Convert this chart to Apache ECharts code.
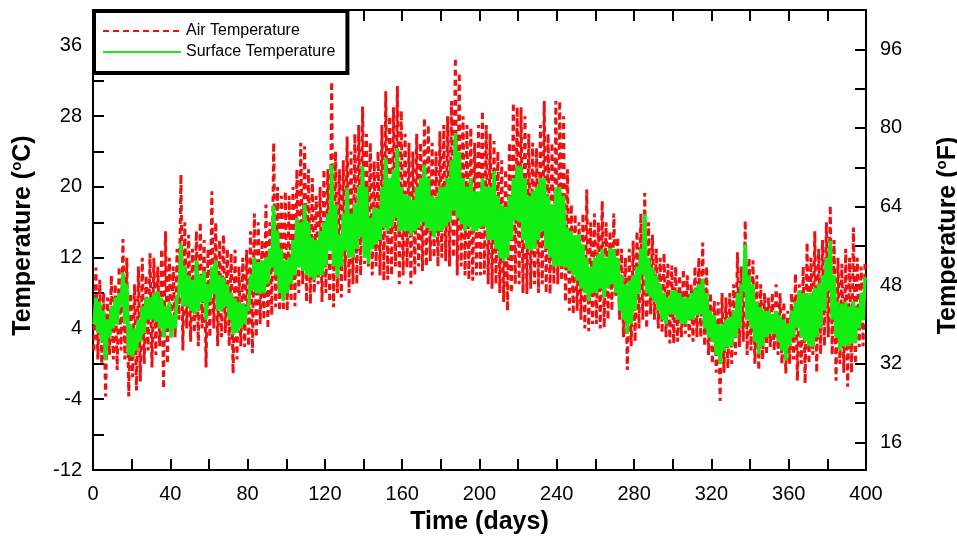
<!DOCTYPE html>
<html>
<head>
<meta charset="utf-8">
<script src="https://cdn.jsdelivr.net/npm/echarts@6/dist/echarts.min.js"></script>
<style>
html,body{margin:0;padding:0;background:#fff;}
#chart{width:957px;height:541px;}
</style>
</head>
<body>
<div id="chart"></div>
<script>
// 2-day bins (bin i covers days 2i..2i+2): daily low / high envelope estimates
const airLow = [
  1.5, 0.5, 0, -3.7, 1, 0.5, -0.7, 1.5, 0.5, -3.7,
  -1.5, -3, -2, 0, 1.5, -0.4, 1, 2, -2.8, 0,
  3, 3, 5, 1.5, 4, 2.5, 3.5, 2, 4, -0.4,
  3, 4, 2, 3, 3.5, 2, -1.1, 0.5, 2, 1.9,
  2, 1.2, 3, 4.5, 5, 4, 5.5, 6.4, 6, 6,
  6, 7, 6.5, 8, 9, 7, 6.8, 8, 9, 7,
  8, 7, 6.4, 8, 7.5, 9.4, 8, 9, 9, 10,
  11.3, 11, 10, 11, 10, 9.4, 9.5, 10, 11, 9,
  10, 10.9, 9, 10, 11, 10.5, 11, 11.6, 12, 11,
  12, 11.6, 11, 12, 10, 11, 10, 9.5, 9.4, 10,
  10, 10.1, 9, 8.5, 9, 8, 7, 6, 8, 9,
  9, 8, 7.9, 8.5, 9, 8, 9, 8, 7.9, 9,
  9, 9.4, 7, 6, 5.6, 6, 5, 4, 3.7, 4.5,
  4.5, 4, 4.1, 5, 6, 7.5, 5, 3, -0.7, 2,
  2.5, 4, 5, 4, 5.6, 5, 4, 3.5, 3, 2.3,
  2.3, 2.5, 3, 3.4, 3, 2.5, 3, 3, 2, 1,
  0, -1, -4.2, -1, -0.5, 0, 1, 1.9, 2.5, 1,
  1.5, 0, -0.7, 0.5, 1, 1.9, 1.5, 1, 0, -1.1,
  0, 0.5, -1.9, 0, -2.2, 0, 1, -1, 1.1, 2,
  3, 1, -1.9, 0, -1, -2.6, -1, 0, 1.9, 2
];
const airHigh = [
  10.9, 9.5, 8, 7.5, 10, 9, 11, 14.1, 12, 8,
  9, 11, 12, 10, 12.5, 12, 11, 13, 15, 12,
  11, 13, 21.4, 16, 14.6, 13, 15, 16, 14, 13,
  19.5, 16, 14, 14.6, 13, 12.5, 12.9, 11, 12, 12.9,
  15, 17, 16, 14, 18, 16, 25, 20, 19, 19.5,
  19, 20, 22, 25, 24.6, 22, 21, 19, 20, 22,
  22, 31.9, 24, 22, 23, 25.7, 24, 26, 27, 29.1,
  26, 25, 22.9, 24, 27, 30.8, 28, 29, 31.4, 28.6,
  26, 25, 24, 26, 25, 27.8, 27, 25, 24, 26.3,
  27, 28, 29.7, 34.6, 32.9, 28, 27, 26.7, 25, 27,
  28.6, 27, 26, 25.2, 24, 23, 22, 25, 29.5, 29,
  29, 28, 26, 25, 24.4, 27, 29.7, 26, 25, 29.7,
  29.7, 28, 22, 18, 16.9, 16, 17, 19.7, 16, 17,
  16, 18.4, 16, 15, 17, 14.3, 13, 12, 13, 13.9,
  15, 17, 19.3, 16, 14.6, 13, 12, 12.5, 11.3, 11.1,
  11, 10, 10.7, 10, 9, 11, 12, 13.7, 11, 8,
  7.1, 7, 8, 7.5, 8, 9, 12.6, 11, 16.2, 12,
  11.7, 10, 9, 8, 7.5, 8, 9, 8, 7, 6,
  8, 10.2, 9, 11, 13.7, 12, 15, 13, 14, 16,
  17.9, 14, 12, 11.3, 13, 12, 15.4, 12, 11, 11.7
];
const surfLow = [
  4.5, 3.5, 2.5, 0.4, 3, 4, 4.5, 6.5, 4.5, 1,
  0.8, 1.5, 2.5, 3.5, 5, 5, 4.8, 4, 3, 4,
  3, 4, 8, 6.5, 6.5, 6, 5.6, 6, 7, 5,
  7, 7.9, 6, 6, 6.5, 5, 3.3, 3.5, 4, 4.5,
  6, 8.3, 8, 7.9, 8, 9, 10.9, 10, 8, 7.1,
  8, 9, 10, 10.9, 10.5, 10, 9.8, 9.5, 10, 10,
  11, 12.8, 11, 9.8, 11, 12.8, 12, 12, 13, 14.3,
  12, 11.3, 13, 13.5, 14, 15.4, 15, 15.5, 16.5, 15,
  15, 15, 14.5, 15, 15.4, 16, 15.4, 15, 14.3, 15,
  15, 15.5, 16, 17.3, 16.5, 15.8, 15, 15.5, 15, 15,
  15.4, 15.5, 14, 14, 13, 12, 11.6, 12, 14, 16.2,
  16, 14, 13, 12.8, 13, 14, 15, 13, 12, 11,
  11, 11, 10.9, 10.5, 10, 9.4, 8.5, 8, 7.1, 8,
  8, 8.5, 7.5, 8.6, 9, 8, 6, 5, 3.4, 4.5,
  6, 8, 10.1, 8, 7.5, 7, 6, 5, 4.5, 5.6,
  5.6, 5, 4.5, 4.5, 5, 5, 5.5, 5.6, 4, 3,
  2.5, 1, 0, 1.5, 1.9, 2, 3, 4, 8.3, 5,
  4, 2.5, 1.1, 2, 3, 3.4, 3.4, 2.5, 1.5, 0.4,
  2, 3, 4.1, 3, 2.5, 2, 1.9, 3, 4, 6,
  8.3, 5, 3, 1.5, 2, 2, 2.3, 2.3, 4, 4.9
];
const surfHigh = [
  7.5, 7, 6, 5, 6.5, 7.5, 8, 10.3, 9, 4.5,
  4, 5, 6.5, 7.5, 7.5, 8, 8.2, 7.5, 6.5, 7,
  5.5, 7.5, 13.6, 11, 10, 9.5, 11.7, 10, 10.5, 9,
  11, 11.7, 10, 9.8, 9, 8, 7.4, 7, 6.8, 6.5,
  10, 12, 11.5, 11.7, 12, 13, 17.9, 15, 13, 11.7,
  12, 14, 16.5, 16, 18, 16, 14.3, 14, 15, 16,
  17, 22.5, 18, 14.6, 17, 19.9, 17, 18, 20, 22.4,
  20, 16.5, 17.7, 17.5, 20, 23.3, 21, 22, 24.4, 20,
  19.2, 19, 18.5, 20, 21, 22.5, 21, 19, 18.8, 20,
  20, 21, 23, 26.1, 24, 21, 20, 21, 19.5, 19.5,
  21, 20, 20, 21.8, 19, 18, 17.7, 19, 21, 22.4,
  22.4, 21, 19, 19.5, 20, 21, 21, 19, 18, 19.9,
  20, 19, 15.4, 15, 14.5, 14.7, 13.5, 12, 10.9, 12,
  12.4, 13, 12, 13.1, 13, 12, 10, 9, 9.4, 10,
  11, 13, 16.9, 12, 10.9, 10, 9, 8, 7.5, 8.3,
  8.3, 8, 7.5, 7.5, 8, 8.5, 9, 9.6, 8, 6,
  5.5, 4.5, 4.5, 5, 5.3, 6, 8, 9, 13.5, 10,
  9, 7, 6.4, 6, 6, 5.6, 6, 5.5, 5, 4.5,
  6, 7, 8.3, 8, 8, 8, 8.6, 9, 10, 12,
  13.9, 10, 7, 6.8, 7, 6.5, 7.1, 6.4, 8, 9.8
];
const binDays = 2;
const xTicks = [0, 40, 80, 120, 160, 200, 240, 280, 320, 360, 400];
const cTicks = [-12, -4, 4, 12, 20, 28, 36];
const fLabels = [16, 32, 48, 64, 80, 96];
const fTicks = [16, 24, 32, 40, 48, 56, 64, 72, 80, 88, 96];

function buildSeries(lo, hi) {
  const out = [];
  for (let i = 0; i < lo.length; i++) {
    out.push([i * binDays + 0.5, lo[i]]);
    out.push([i * binDays + 1.5, hi[i]]);
  }
  return out;
}
const airData = buildSeries(airLow, airHigh);
const surfData = buildSeries(surfLow, surfHigh);

const FONT = 'Arial, "Liberation Sans", sans-serif';
const chart = echarts.init(document.getElementById('chart'), null, {renderer: 'canvas'});
const axisLine = {show: true, onZero: false, lineStyle: {color: '#000', width: 2}};
const tick = {inside: true, length: 11, lineStyle: {color: '#000', width: 2}};
const titleRich = {
  a: {fontFamily: FONT, fontSize: 25, fontWeight: 'bold', color: '#000', lineHeight: 28},
  s: {fontFamily: FONT, fontSize: 15, fontWeight: 'bold', color: '#000', verticalAlign: 'top', lineHeight: 28, padding: [0, 0, 12, 0]}
};
chart.setOption({
  animation: false,
  backgroundColor: '#fff',
  grid: {left: 93, right: 91, top: 10, bottom: 71, containLabel: false, outerBoundsMode: 'none'},
  legend: {
    left: 93, top: 10, orient: 'vertical',
    backgroundColor: '#fff', borderColor: '#000', borderWidth: 2,
    shadowColor: '#000', shadowOffsetX: 2, shadowOffsetY: 2, shadowBlur: 0,
    padding: [13, 11, 12, 9], itemWidth: 78, itemHeight: 14, itemGap: 5,
    itemStyle: {opacity: 0},
    textStyle: {fontFamily: FONT, fontSize: 16, color: '#000'},
    data: ['Air Temperature', 'Surface Temperature']
  },
  xAxis: [{
    type: 'value', min: 0, max: 400, interval: 20,
    name: 'Time (days)', nameLocation: 'middle', nameGap: 40,
    nameTextStyle: {fontFamily: FONT, fontSize: 25, fontWeight: 'bold', color: '#000'},
    axisLine: axisLine, axisTick: tick,
    axisLabel: {fontFamily: FONT, fontSize: 20, color: '#000', margin: 14,
      formatter: v => (xTicks.indexOf(v) >= 0 ? String(v) : '')},
    splitLine: {show: false}
  }, {
    type: 'value', min: 0, max: 400, interval: 20, position: 'top',
    axisLine: axisLine, axisTick: tick,
    axisLabel: {show: false}, splitLine: {show: false}
  }],
  yAxis: [{
    type: 'value', min: -12, max: 40, interval: 4,
    name: '{a|Temperature (}{s|o}{a|C)}', nameLocation: 'middle', nameGap: 56, nameRotate: 90,
    nameTextStyle: {rich: titleRich, padding: [0, 0, 0, 9]},
    axisLine: axisLine, axisTick: tick,
    axisLabel: {fontFamily: FONT, fontSize: 20, color: '#000', margin: 11,
      formatter: v => (cTicks.indexOf(v) >= 0 ? String(v) : '')},
    splitLine: {show: false}
  }, {
    type: 'value', min: 10.4, max: 104, position: 'right', alignTicks: false,
    name: '{a|Temperature (}{s|o}{a|F)}', nameLocation: 'middle', nameGap: 68, nameRotate: 90,
    nameTextStyle: {rich: titleRich, padding: [0, 0, 0, 9]},
    axisLine: axisLine,
    axisTick: Object.assign({}, tick, {customValues: fTicks}),
    axisLabel: {fontFamily: FONT, fontSize: 20, color: '#000', margin: 14, customValues: fLabels},
    splitLine: {show: false}
  }],
  series: [{
    name: 'Air Temperature', type: 'line', symbol: 'none', data: airData,
    xAxisIndex: 0, yAxisIndex: 0,
    itemStyle: {color: '#ee1111'},
    lineStyle: {color: '#ee1111', width: 3, type: [6, 4]}
  }, {
    name: 'Surface Temperature', type: 'line', symbol: 'none', data: surfData,
    xAxisIndex: 0, yAxisIndex: 0,
    itemStyle: {color: '#11ee11'},
    lineStyle: {color: '#11ee11', width: 3.5}
  }]
});
</script>
</body>
</html>
